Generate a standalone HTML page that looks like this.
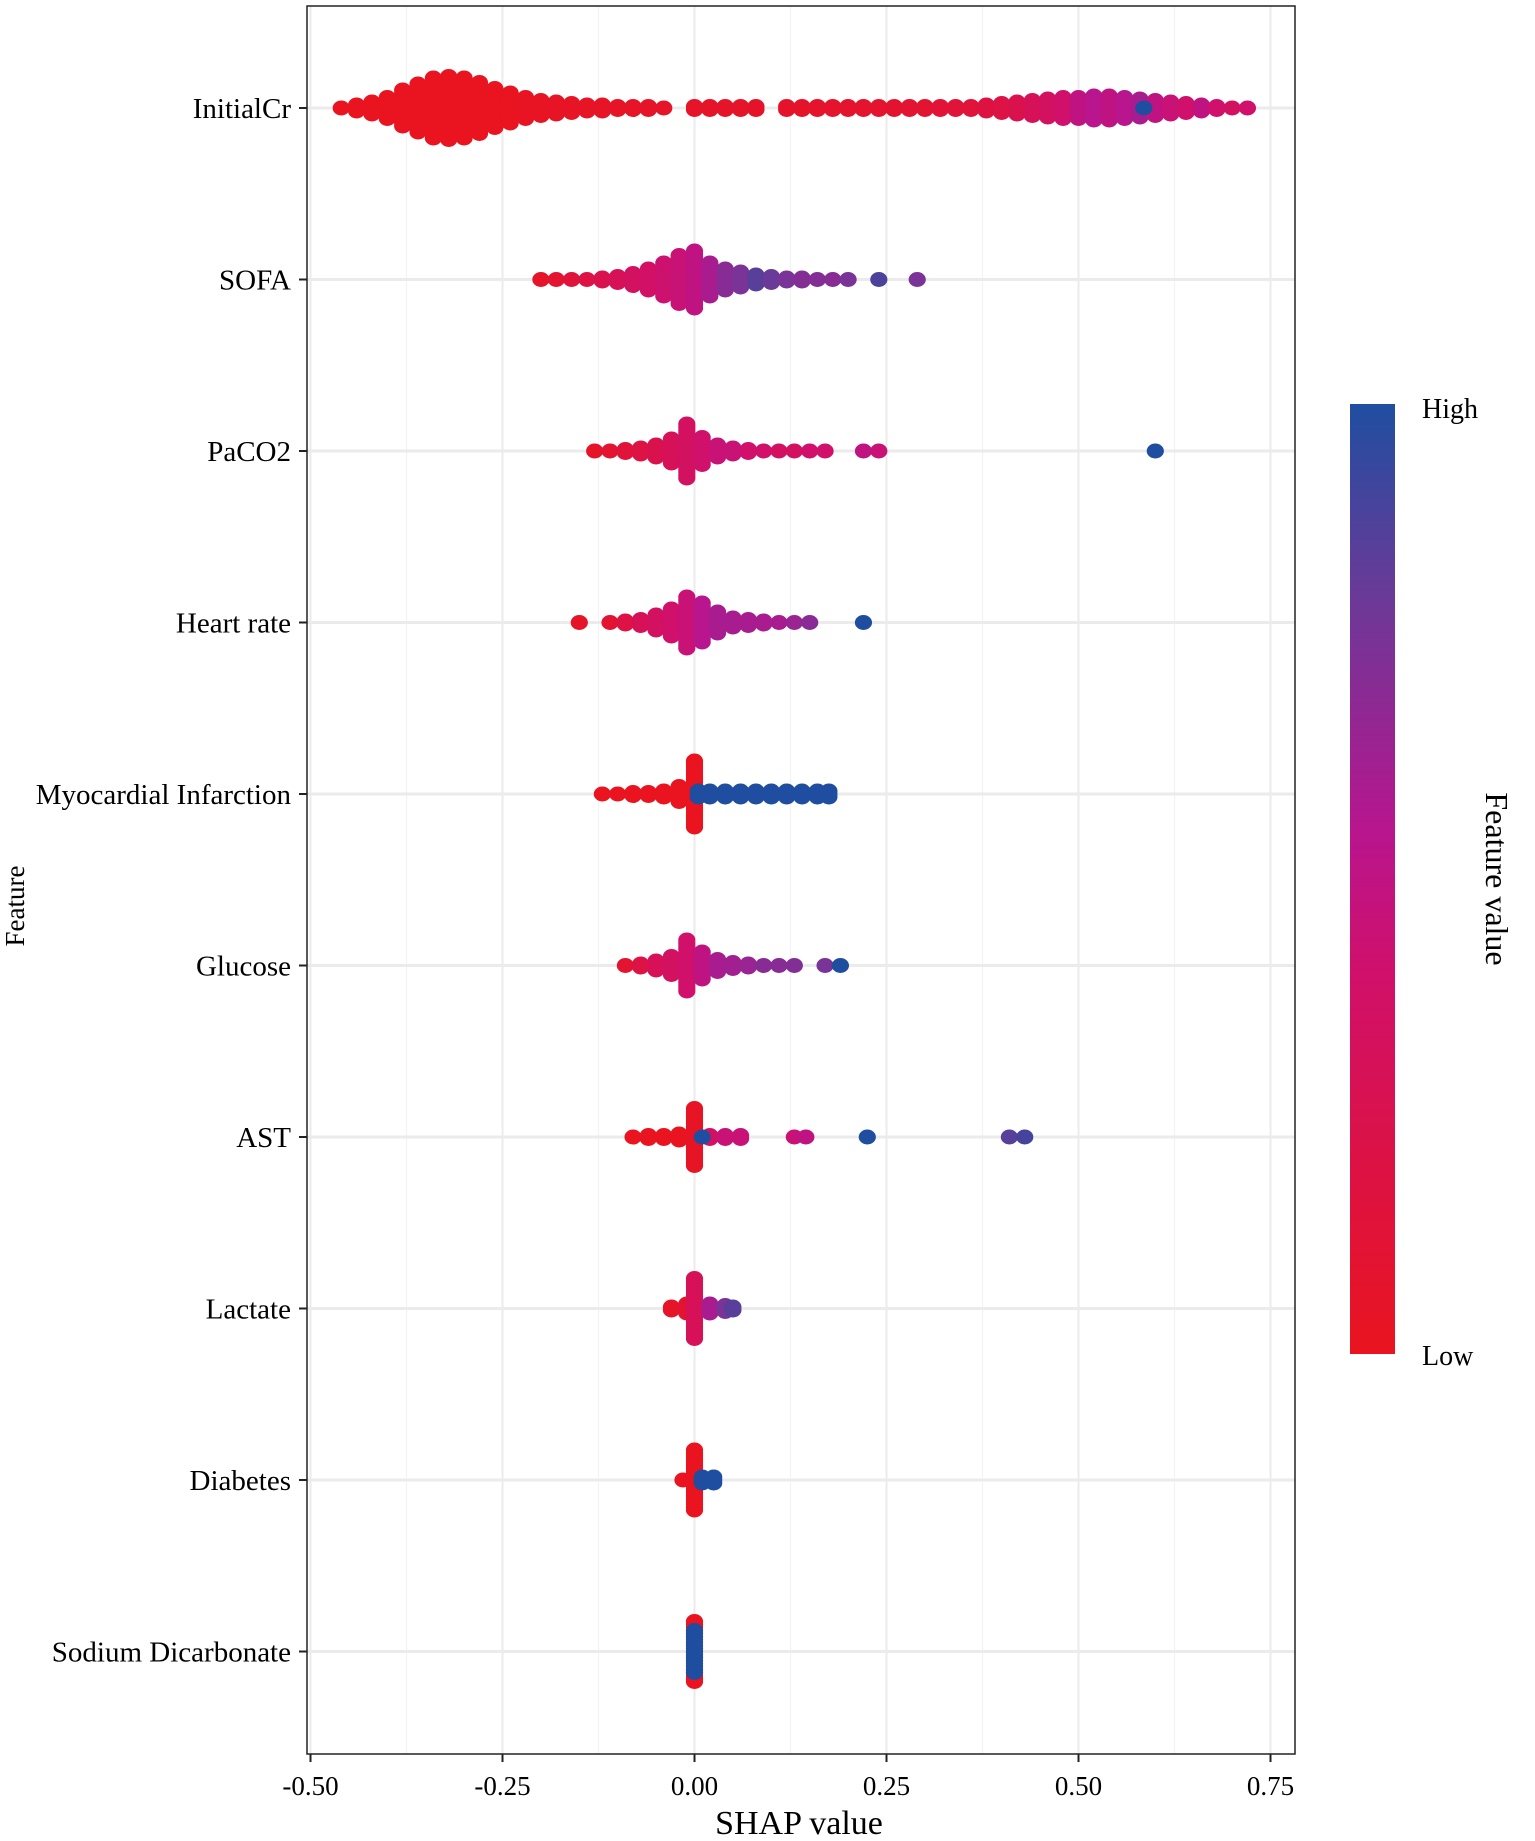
<!DOCTYPE html>
<html><head><meta charset="utf-8"><style>
html,body{margin:0;padding:0;background:#fff;}
svg{display:block;font-family:"Liberation Serif",serif;}
</style></head><body>
<svg id="chart" width="1535" height="1841" viewBox="0 0 1535 1841">
<defs>
<linearGradient id="cbar" x1="0" y1="1" x2="0" y2="0">
<stop offset="0" stop-color="#e9141f"/><stop offset="0.4" stop-color="#d0106a"/><stop offset="0.55" stop-color="#b8158e"/><stop offset="0.8" stop-color="#6a3a98"/><stop offset="1" stop-color="#1f4ea0"/>
</linearGradient>
</defs>
<g id="grid"></g>
<g id="points"></g>
<rect x="307" y="6" width="988" height="1748" fill="none" stroke="#222" stroke-width="1.5"/>
<g id="axes"></g>
<text x="799" y="1834" font-size="34" text-anchor="middle">SHAP value</text>
<text transform="translate(24,906) rotate(-90)" font-size="27" text-anchor="middle">Feature</text>
<rect x="1350" y="404" width="45" height="950" fill="url(#cbar)"/>
<text x="1422" y="418" font-size="28">High</text>
<text x="1422" y="1365" font-size="28">Low</text>
<text transform="translate(1486,879) rotate(90)" font-size="32" text-anchor="middle">Feature value</text>
</svg>
<script>
const features = ["InitialCr","SOFA","PaCO2","Heart rate","Myocardial Infarction","Glucose","AST","Lactate","Diabetes","Sodium Dicarbonate"];
const xTicks = [-0.5,-0.25,0,0.25,0.5,0.75];
const xTickLabels = ["-0.50","-0.25","0.00","0.25","0.50","0.75"];
// per feature: [shap, dotCount, featureValue(0..1)]
const initialCr = [[-0.46,1,0],[-0.44,3,0],[-0.42,5,0],[-0.40,8,0],[-0.38,13,0],[-0.36,17,0],[-0.34,21,0],[-0.32,22,0],[-0.30,21,0],[-0.28,18,0],[-0.26,14,0],[-0.24,11,0],[-0.22,8,0.02],[-0.20,6,0.02],[-0.18,5,0.03],[-0.16,4,0.03],[-0.14,3,0.03],[-0.12,3,0.04],[-0.10,2,0.04],[-0.08,2,0.04],[-0.06,2,0.05],[-0.04,1,0.05],[0.00,2,0.05],[0.02,2,0.05],[0.04,2,0.05],[0.06,2,0.05],[0.08,2,0.06],[0.12,2,0.06],[0.14,2,0.06],[0.16,2,0.07],[0.18,2,0.07],[0.20,2,0.08],[0.22,2,0.08],[0.24,2,0.08],[0.26,2,0.09],[0.28,2,0.1],[0.30,2,0.1],[0.32,2,0.12],[0.34,2,0.14],[0.36,2,0.15],[0.38,3,0.18],[0.40,4,0.2],[0.42,5,0.25],[0.44,6,0.3],[0.46,7,0.35],[0.48,8,0.4],[0.50,8,0.5],[0.52,9,0.55],[0.54,9,0.5],[0.56,8,0.55],[0.58,7,0.6],[0.60,6,0.5],[0.62,5,0.45],[0.64,4,0.4],[0.66,3,0.5],[0.68,2,0.4],[0.70,1,0.35],[0.72,1,0.4],[0.585,1,1]];
const sofa = [[-0.20,1,0.05],[-0.18,1,0.1],[-0.16,1,0.15],[-0.14,1,0.2],[-0.12,2,0.25],[-0.10,3,0.3],[-0.08,5,0.35],[-0.06,8,0.38],[-0.04,12,0.42],[-0.02,17,0.45],[0.00,20,0.5],[0.02,12,0.6],[0.04,8,0.7],[0.06,6,0.75],[0.08,4,0.85],[0.10,3,0.8],[0.12,2,0.75],[0.14,2,0.72],[0.16,1,0.72],[0.18,1,0.7],[0.20,1,0.75],[0.24,1,0.88],[0.29,1,0.75]];
const paco2 = [[-0.13,1,0.05],[-0.11,1,0.1],[-0.09,2,0.15],[-0.07,3,0.2],[-0.05,5,0.25],[-0.03,9,0.3],[-0.01,19,0.35],[0.01,10,0.4],[0.03,5,0.45],[0.05,3,0.45],[0.07,2,0.4],[0.09,1,0.4],[0.11,1,0.35],[0.13,1,0.35],[0.15,1,0.4],[0.17,1,0.4],[0.22,1,0.5],[0.24,1,0.45],[0.60,1,1]];
const heartRate = [[-0.15,1,0.05],[-0.11,1,0.1],[-0.09,2,0.2],[-0.07,3,0.3],[-0.05,6,0.35],[-0.03,10,0.4],[-0.01,18,0.45],[0.01,14,0.55],[0.03,8,0.6],[0.05,4,0.6],[0.07,3,0.6],[0.09,2,0.6],[0.11,1,0.6],[0.13,1,0.65],[0.15,1,0.7],[0.22,1,1]];
const myocardial = [[-0.12,1,0],[-0.10,1,0],[-0.08,2,0],[-0.06,2,0],[-0.04,3,0],[-0.02,6,0],[0.00,23,0],[0.005,3,1],[0.02,3,1],[0.04,3,1],[0.06,3,1],[0.08,3,1],[0.10,3,1],[0.12,3,1],[0.14,3,1],[0.16,3,1],[0.175,3,1]];
const glucose = [[-0.09,1,0.1],[-0.07,2,0.2],[-0.05,4,0.3],[-0.03,7,0.35],[-0.01,18,0.4],[0.01,10,0.5],[0.03,5,0.6],[0.05,3,0.62],[0.07,2,0.65],[0.09,1,0.7],[0.11,1,0.7],[0.13,1,0.72],[0.17,1,0.75],[0.19,1,1]];
const ast = [[-0.08,1,0],[-0.06,2,0],[-0.04,2,0],[-0.02,3,0],[0.00,20,0.03],[0.02,2,0.35],[0.04,2,0.45],[0.06,2,0.45],[0.13,1,0.45],[0.145,1,0.5],[0.225,1,1],[0.41,1,0.85],[0.43,1,0.9],[0.01,1,1]];
const lactate = [[-0.03,2,0.05],[-0.01,4,0.1],[0.00,21,0.3],[0.02,4,0.6],[0.04,3,0.75],[0.05,2,0.85]];
const diabetes = [[-0.015,1,0],[0.00,21,0],[0.01,3,1],[0.025,3,1]];
const sodium = [[0.00,21,0],[0.00,15,1]];
const series = [initialCr,sofa,paco2,heartRate,myocardial,glucose,ast,lactate,diabetes,sodium];

const NS="http://www.w3.org/2000/svg";
const x0=307,x1=1295;
function xScale(v){return 694.5+v*768;}
function yRow(i){return 108+i*171.5;}
const stops=[[0,[233,20,31]],[0.4,[208,16,106]],[0.55,[184,21,142]],[0.8,[106,58,152]],[1,[31,78,160]]];
function colorOf(t){for(let i=1;i<stops.length;i++){if(t<=stops[i][0]){const a=stops[i-1],b=stops[i];const f=(t-a[0])/(b[0]-a[0]);const c=a[1].map((v,k)=>Math.round(v+(b[1][k]-v)*f));return `rgb(${c[0]},${c[1]},${c[2]})`;}}return 'rgb(31,78,160)';}
function mk(tag,attrs,parent){const e=document.createElementNS(NS,tag);for(const k in attrs)e.setAttribute(k,attrs[k]);parent.appendChild(e);return e;}
const grid=document.getElementById('grid'),axes=document.getElementById('axes'),pts=document.getElementById('points');
for(let i=0;i<xTicks.length;i++){
  const x=xScale(xTicks[i]);
  const gl=mk('line',{x1:x,x2:x,y1:6,y2:1754,stroke:'#ebebeb','stroke-width':2},grid);
  
  
  if(i<xTicks.length-1){const xm=xScale((xTicks[i]+xTicks[i+1])/2);
    const ml=mk('line',{x1:xm,x2:xm,y1:6,y2:1754,stroke:'#f3f3f3','stroke-width':1.2},grid);
    
    }
  const tk=mk('line',{x1:x,x2:x,y1:1754,y2:1762,stroke:'#222','stroke-width':2},axes);
  
  
  const tl=mk('text',{x:x,y:1795,'font-size':27,'text-anchor':'middle'},axes);
  tl.textContent=xTickLabels[i];
  
  
}
features.forEach((f,i)=>{
  const y=yRow(i);
  const rl=mk('line',{x1:x0,x2:x1,y1:y,y2:y,stroke:'#ebebeb','stroke-width':3},grid);
  
  
  const tk=mk('line',{x1:299,x2:307,y1:y,y2:y,stroke:'#222','stroke-width':2},axes);
  
  
  const t=mk('text',{x:291,y:y+10,'font-size':29,'text-anchor':'end'},axes);
  t.textContent=f;
  
  
  const g=mk('g',{},pts);
  
  
  series[i].forEach(b=>{
    const n=b[1],cx=xScale(b[0]),col=colorOf(b[2]);
    for(let k=0;k<n;k++){
      const off=(k-(n-1)/2)*3;
      const c=mk('ellipse',{cx:cx,cy:y+off,rx:8.6,ry:7.5,fill:col},g);
      
      
    }
  });
});
</script>
</body></html>
